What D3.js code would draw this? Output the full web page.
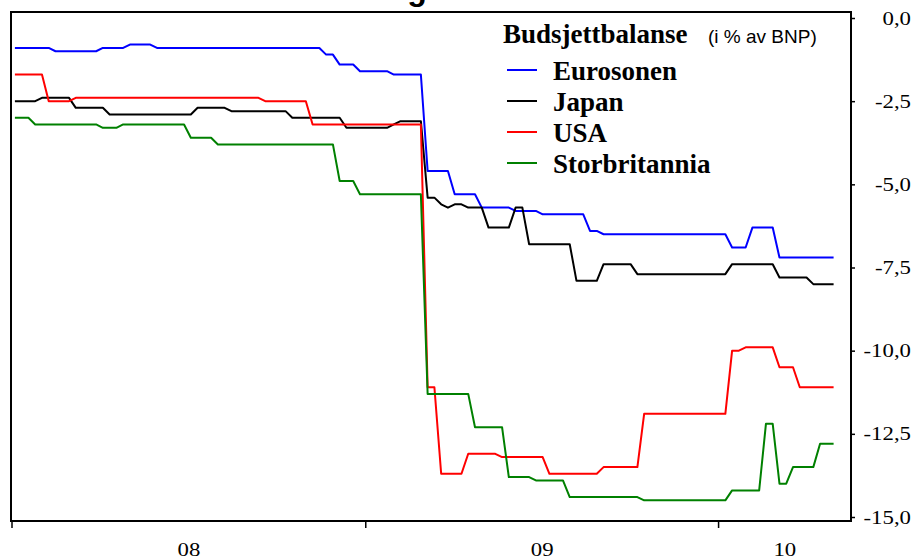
<!DOCTYPE html>
<html><head><meta charset="utf-8">
<script src="https://cdn.jsdelivr.net/npm/d3@7"></script>
<style>html,body{margin:0;padding:0;background:#fff;} svg{display:block;}</style>
</head><body>
<svg id="chart" width="917" height="560"></svg>
<script>
// ---------- data ----------
const startDate = "2008-01-04";          // first weekly observation (Fridays)
const yTicks = [0, -2.5, -5, -7.5, -10, -12.5, -15];
const yearTicks = ["2008-01-01", "2009-01-01", "2010-01-01"];
const yearLabels = ["08", "09", "10"];
const seriesNames = ["Eurosonen", "Japan", "USA", "Storbritannia"];
const seriesColors = ["#0000ff", "#000000", "#ff0000", "#008000"];
const legendTitle = "Budsjettbalanse";
const legendUnit = "(i % av BNP)";

const eurosonen = [
  -0.9,-0.9,-0.9,-0.9,-0.9,-0.9,-1.0,-1.0,-1.0,-1.0,
  -1.0,-1.0,-1.0,-0.9,-0.9,-0.9,-0.9,-0.8,-0.8,-0.8,
  -0.8,-0.9,-0.9,-0.9,-0.9,-0.9,-0.9,-0.9,-0.9,-0.9,
  -0.9,-0.9,-0.9,-0.9,-0.9,-0.9,-0.9,-0.9,-0.9,-0.9,
  -0.9,-0.9,-0.9,-0.9,-0.9,-0.9,-1.1,-1.1,-1.4,-1.4,
  -1.4,-1.6,-1.6,-1.6,-1.6,-1.6,-1.7,-1.7,-1.7,-1.7,
  -1.7,-4.6,-4.6,-4.6,-4.6,-5.3,-5.3,-5.3,-5.3,-5.7,
  -5.7,-5.7,-5.7,-5.7,-5.8,-5.8,-5.8,-5.8,-5.9,-5.9,
  -5.9,-5.9,-5.9,-5.9,-5.9,-6.4,-6.4,-6.5,-6.5,-6.5,
  -6.5,-6.5,-6.5,-6.5,-6.5,-6.5,-6.5,-6.5,-6.5,-6.5,
  -6.5,-6.5,-6.5,-6.5,-6.5,-6.5,-6.9,-6.9,-6.9,-6.3,
  -6.3,-6.3,-6.3,-7.2,-7.2,-7.2,-7.2,-7.2,-7.2,-7.2,
  -7.2,-7.2
];
const japan = [
  -2.5,-2.5,-2.5,-2.5,-2.4,-2.4,-2.4,-2.4,-2.4,-2.7,
  -2.7,-2.7,-2.7,-2.7,-2.9,-2.9,-2.9,-2.9,-2.9,-2.9,
  -2.9,-2.9,-2.9,-2.9,-2.9,-2.9,-2.9,-2.7,-2.7,-2.7,
  -2.7,-2.7,-2.8,-2.8,-2.8,-2.8,-2.8,-2.8,-2.8,-2.8,
  -2.8,-3.0,-3.0,-3.0,-3.0,-3.0,-3.0,-3.0,-3.0,-3.3,
  -3.3,-3.3,-3.3,-3.3,-3.3,-3.3,-3.2,-3.1,-3.1,-3.1,
  -3.1,-5.4,-5.4,-5.6,-5.7,-5.6,-5.6,-5.7,-5.7,-5.7,
  -6.3,-6.3,-6.3,-6.3,-5.7,-5.7,-6.8,-6.8,-6.8,-6.8,
  -6.8,-6.8,-6.8,-7.9,-7.9,-7.9,-7.9,-7.4,-7.4,-7.4,
  -7.4,-7.4,-7.7,-7.7,-7.7,-7.7,-7.7,-7.7,-7.7,-7.7,
  -7.7,-7.7,-7.7,-7.7,-7.7,-7.7,-7.4,-7.4,-7.4,-7.4,
  -7.4,-7.4,-7.4,-7.8,-7.8,-7.8,-7.8,-7.8,-8.0,-8.0,
  -8.0,-8.0
];
const usa = [
  -1.7,-1.7,-1.7,-1.7,-1.7,-2.5,-2.5,-2.5,-2.5,-2.4,
  -2.4,-2.4,-2.4,-2.4,-2.4,-2.4,-2.4,-2.4,-2.4,-2.4,
  -2.4,-2.4,-2.4,-2.4,-2.4,-2.4,-2.4,-2.4,-2.4,-2.4,
  -2.4,-2.4,-2.4,-2.4,-2.4,-2.4,-2.4,-2.5,-2.5,-2.5,
  -2.5,-2.5,-2.5,-2.5,-3.2,-3.2,-3.2,-3.2,-3.2,-3.2,
  -3.2,-3.2,-3.2,-3.2,-3.2,-3.2,-3.2,-3.2,-3.2,-3.2,
  -3.2,-11.1,-11.1,-13.7,-13.7,-13.7,-13.7,-13.1,-13.1,-13.1,
  -13.1,-13.1,-13.2,-13.2,-13.2,-13.2,-13.2,-13.2,-13.2,-13.7,
  -13.7,-13.7,-13.7,-13.7,-13.7,-13.7,-13.7,-13.5,-13.5,-13.5,
  -13.5,-13.5,-13.5,-11.9,-11.9,-11.9,-11.9,-11.9,-11.9,-11.9,
  -11.9,-11.9,-11.9,-11.9,-11.9,-11.9,-10.0,-10.0,-9.9,-9.9,
  -9.9,-9.9,-9.9,-10.5,-10.5,-10.5,-11.1,-11.1,-11.1,-11.1,
  -11.1,-11.1
];
const storbritannia = [
  -3.0,-3.0,-3.0,-3.2,-3.2,-3.2,-3.2,-3.2,-3.2,-3.2,
  -3.2,-3.2,-3.2,-3.3,-3.3,-3.3,-3.2,-3.2,-3.2,-3.2,
  -3.2,-3.2,-3.2,-3.2,-3.2,-3.2,-3.6,-3.6,-3.6,-3.6,
  -3.8,-3.8,-3.8,-3.8,-3.8,-3.8,-3.8,-3.8,-3.8,-3.8,
  -3.8,-3.8,-3.8,-3.8,-3.8,-3.8,-3.8,-3.8,-4.9,-4.9,
  -4.9,-5.3,-5.3,-5.3,-5.3,-5.3,-5.3,-5.3,-5.3,-5.3,
  -5.3,-11.3,-11.3,-11.3,-11.3,-11.3,-11.3,-11.3,-12.3,-12.3,
  -12.3,-12.3,-12.3,-13.8,-13.8,-13.8,-13.8,-13.9,-13.9,-13.9,
  -13.9,-13.9,-14.4,-14.4,-14.4,-14.4,-14.4,-14.4,-14.4,-14.4,
  -14.4,-14.4,-14.4,-14.5,-14.5,-14.5,-14.5,-14.5,-14.5,-14.5,
  -14.5,-14.5,-14.5,-14.5,-14.5,-14.5,-14.2,-14.2,-14.2,-14.2,
  -14.2,-12.2,-12.2,-14.0,-14.0,-13.5,-13.5,-13.5,-13.5,-12.8,
  -12.8,-12.8
];
const seriesValues = [eurosonen, japan, usa, storbritannia];

// ---------- layout ----------
const W = 917, H = 560;
const plot = {left: 11, right: 851, top: 12, bottom: 521};
const parse = d3.timeParse("%Y-%m-%d");
const start = parse(startDate);
const dates = eurosonen.map((_, i) => d3.timeDay.offset(start, 7 * i));

const x = d3.scaleTime()
  .domain([parse("2008-01-01"), parse("2010-05-18")])
  .range([12, 851]);
const y = d3.scaleLinear().domain([0, -15]).range([18, 517]);

const svg = d3.select("#chart");
svg.append("rect").attr("width", W).attr("height", H).attr("fill", "#fff");

// cut-off title remnant (only the descender shows in the reference)
svg.append("text")
  .attr("x", 417).attr("y", 0)
  .attr("text-anchor", "middle")
  .attr("font-family", "Liberation Sans, Arial, sans-serif")
  .attr("font-weight", "bold")
  .attr("font-size", 32)
  .text("g");

// series lines
const line = d3.line()
  .x((d, i) => x(dates[i]))
  .y(d => y(d));
svg.append("g").selectAll("path")
  .data(seriesValues)
  .join("path")
  .attr("d", d => line(d))
  .attr("fill", "none")
  .attr("stroke", (d, i) => seriesColors[i])
  .attr("stroke-width", 2)
  .attr("stroke-linejoin", "round");

// frame
svg.append("rect")
  .attr("x", plot.left).attr("y", plot.top)
  .attr("width", plot.right - plot.left)
  .attr("height", plot.bottom - plot.top)
  .attr("fill", "none").attr("stroke", "#000").attr("stroke-width", 2);

// right value axis
const fmt = v => v.toFixed(1).replace(".", ",");
const yAxis = svg.append("g")
  .attr("transform", `translate(${plot.right},0)`)
  .call(d3.axisRight(y).tickValues(yTicks).tickSize(4).tickFormat(fmt));
yAxis.select(".domain").remove();
yAxis.selectAll(".tick line").attr("stroke", "#000").attr("stroke-width", 1.5);
yAxis.selectAll(".tick text")
  .attr("x", 0)
  .attr("text-anchor", "end")
  .attr("transform", "translate(60,0) scale(1.2,1)")
  .attr("font-family", "Liberation Serif, Times New Roman, serif")
  .attr("font-size", 19)
  .attr("fill", "#000");

// bottom time axis: ticks at year starts, labels centred in each year
const yearDates = yearTicks.map(parse);
svg.append("g").selectAll("line")
  .data(yearDates)
  .join("line")
  .attr("x1", d => x(d)).attr("x2", d => x(d))
  .attr("y1", plot.bottom).attr("y2", plot.bottom + 7)
  .attr("stroke", "#000").attr("stroke-width", 1.5);
const xEnd = x.domain()[1];
svg.append("g").selectAll("text")
  .data(yearLabels)
  .join("text")
  .attr("text-anchor", "middle")
  .attr("transform", (d, i) => {
    const a = x(yearDates[i]);
    const b = i + 1 < yearDates.length ? x(yearDates[i + 1]) : x(xEnd);
    return `translate(${(a + b) / 2},556) scale(1.2,1)`;
  })
  .attr("font-family", "Liberation Serif, Times New Roman, serif")
  .attr("font-size", 19)
  .attr("fill", "#000")
  .text(d => d);

// legend
const lg = svg.append("g");
lg.append("text")
  .attr("x", 503).attr("y", 43)
  .attr("font-family", "Liberation Serif, Times New Roman, serif")
  .attr("font-weight", "bold").attr("font-size", 27)
  .text(legendTitle);
lg.append("text")
  .attr("x", 708).attr("y", 43)
  .attr("font-family", "Liberation Sans, Arial, sans-serif")
  .attr("font-size", 19)
  .text(legendUnit);
const rows = lg.selectAll("g.row")
  .data(seriesNames)
  .join("g")
  .attr("class", "row")
  .attr("transform", (d, i) => `translate(0,${70 + 31 * i})`);
rows.append("line")
  .attr("x1", 507).attr("x2", 537).attr("y1", 0).attr("y2", 0)
  .attr("stroke", (d, i) => seriesColors[i]).attr("stroke-width", 2);
rows.append("text")
  .attr("x", 553).attr("y", 10)
  .attr("font-family", "Liberation Serif, Times New Roman, serif")
  .attr("font-weight", "bold").attr("font-size", 27)
  .text(d => d);
</script>
</body></html>
